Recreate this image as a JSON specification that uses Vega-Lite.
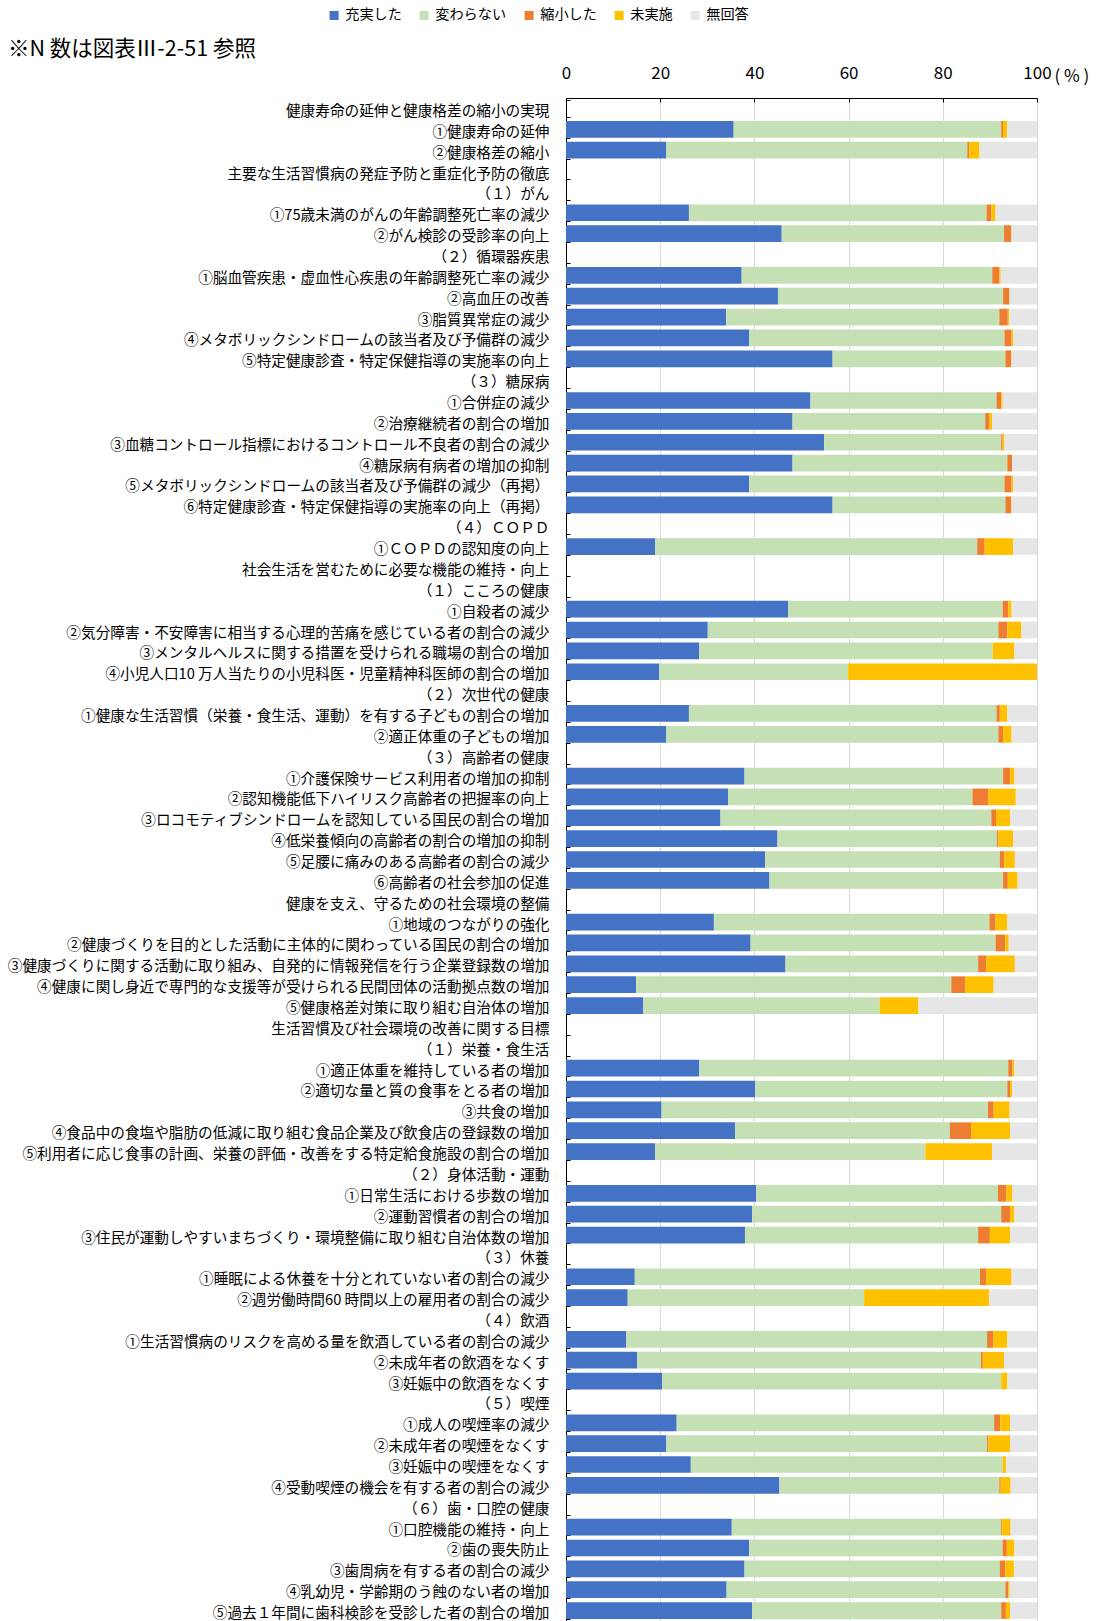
{
  "$schema": "https://vega.github.io/schema/vega-lite/v6.json",
  "width": 471,
  "height": 1523,
  "autosize": {"type": "none"},
  "padding": {"left": 566, "top": 98, "right": 62, "bottom": 0},
  "background": "#ffffff",
  "config": {
    "font": "Noto Sans CJK JP",
    "view": {"stroke": null}
  },
  "title": {
    "text": "※N 数は図表Ⅲ-2-51 参照",
    "anchor": "start",
    "frame": "group",
    "dx": -558,
    "dy": 62,
    "fontSize": 21.5,
    "fontWeight": "normal",
    "color": "#000000",
    "offset": 10
  },
  "datasets": {
    "cats": [
      {"key": "p", "cat": "充実した", "o": 1},
      {"key": "q", "cat": "変わらない", "o": 2},
      {"key": "r", "cat": "縮小した", "o": 3},
      {"key": "s", "cat": "未実施", "o": 4},
      {"key": "t", "cat": "無回答", "o": 5}
    ]
  },
  "data": {
    "values": [
      {"i": "①健康寿命の延伸", "p": 35.6, "q": 56.8, "r": 0.4, "s": 0.9, "t": 6.3},
      {"i": "②健康格差の縮小", "p": 21.3, "q": 63.9, "r": 0.4, "s": 2.2, "t": 12.2},
      {"i": "①75歳未満のがんの年齢調整死亡率の減少", "p": 26.1, "q": 63.2, "r": 1.0, "s": 0.9, "t": 8.8},
      {"i": "②がん検診の受診率の向上", "p": 45.8, "q": 47.2, "r": 1.5, "s": 0.1, "t": 5.4},
      {"i": "①脳血管疾患・虚血性心疾患の年齢調整死亡率の減少", "p": 37.3, "q": 53.2, "r": 1.5, "s": 0.3, "t": 7.7},
      {"i": "②高血圧の改善", "p": 45.0, "q": 47.8, "r": 1.3, "s": 0.1, "t": 5.8},
      {"i": "③脂質異常症の減少", "p": 34.0, "q": 58.0, "r": 1.8, "s": 0.3, "t": 5.9},
      {"i": "④メタボリックシンドロームの該当者及び予備群の減少", "p": 38.9, "q": 54.2, "r": 1.5, "s": 0.3, "t": 5.1},
      {"i": "⑤特定健康診査・特定保健指導の実施率の向上", "p": 56.6, "q": 36.7, "r": 1.2, "s": 0.1, "t": 5.4},
      {"i": "①合併症の減少", "p": 51.9, "q": 39.5, "r": 1.0, "s": 0.3, "t": 7.3},
      {"i": "②治療継続者の割合の増加", "p": 48.1, "q": 40.9, "r": 0.9, "s": 0.6, "t": 9.5},
      {"i": "③血糖コントロール指標におけるコントロール不良者の割合の減少", "p": 54.8, "q": 37.6, "r": 0.3, "s": 0.4, "t": 6.9},
      {"i": "④糖尿病有病者の増加の抑制", "p": 48.1, "q": 45.6, "r": 1.0, "s": 0.0, "t": 5.3},
      {"i": "⑤メタボリックシンドロームの該当者及び予備群の減少（再掲）", "p": 38.9, "q": 54.2, "r": 1.5, "s": 0.3, "t": 5.1},
      {"i": "⑥特定健康診査・特定保健指導の実施率の向上（再掲）", "p": 56.6, "q": 36.7, "r": 1.2, "s": 0.1, "t": 5.4},
      {"i": "①ＣＯＰＤの認知度の向上", "p": 18.9, "q": 68.4, "r": 1.6, "s": 6.0, "t": 5.1},
      {"i": "①自殺者の減少", "p": 47.2, "q": 45.5, "r": 1.2, "s": 0.7, "t": 5.4},
      {"i": "②気分障害・不安障害に相当する心理的苦痛を感じている者の割合の減少", "p": 30.1, "q": 61.7, "r": 1.9, "s": 3.0, "t": 3.3},
      {"i": "③メンタルヘルスに関する措置を受けられる職場の割合の増加", "p": 28.3, "q": 62.3, "r": 0.0, "s": 4.6, "t": 4.8},
      {"i": "④小児人口10 万人当たりの小児科医・児童精神科医師の割合の増加", "p": 19.8, "q": 40.1, "r": 0.0, "s": 40.1, "t": 0.0},
      {"i": "①健康な生活習慣（栄養・食生活、運動）を有する子どもの割合の増加", "p": 26.1, "q": 65.3, "r": 0.7, "s": 1.6, "t": 6.3},
      {"i": "②適正体重の子どもの増加", "p": 21.3, "q": 70.5, "r": 1.0, "s": 1.8, "t": 5.4},
      {"i": "①介護保険サービス利用者の増加の抑制", "p": 37.9, "q": 54.9, "r": 1.5, "s": 0.9, "t": 4.8},
      {"i": "②認知機能低下ハイリスク高齢者の把握率の向上", "p": 34.4, "q": 51.9, "r": 3.4, "s": 5.8, "t": 4.5},
      {"i": "③ロコモティブシンドロームを認知している国民の割合の増加", "p": 32.8, "q": 57.5, "r": 1.0, "s": 3.0, "t": 5.7},
      {"i": "④低栄養傾向の高齢者の割合の増加の抑制", "p": 44.9, "q": 46.6, "r": 0.3, "s": 3.1, "t": 5.1},
      {"i": "⑤足腰に痛みのある高齢者の割合の減少", "p": 42.3, "q": 49.8, "r": 1.0, "s": 2.2, "t": 4.7},
      {"i": "⑥高齢者の社会参加の促進", "p": 43.2, "q": 49.6, "r": 1.0, "s": 2.1, "t": 4.1},
      {"i": "①地域のつながりの強化", "p": 31.4, "q": 58.5, "r": 1.3, "s": 2.5, "t": 6.3},
      {"i": "②健康づくりを目的とした活動に主体的に関わっている国民の割合の増加", "p": 39.2, "q": 52.0, "r": 2.1, "s": 0.7, "t": 6.0},
      {"i": "③健康づくりに関する活動に取り組み、自発的に情報発信を行う企業登録数の増加", "p": 46.6, "q": 40.9, "r": 1.8, "s": 6.0, "t": 4.7},
      {"i": "④健康に関し身近で専門的な支援等が受けられる民間団体の活動拠点数の増加", "p": 14.9, "q": 66.9, "r": 3.0, "s": 6.0, "t": 9.2},
      {"i": "⑤健康格差対策に取り組む自治体の増加", "p": 16.4, "q": 50.2, "r": 0.0, "s": 8.2, "t": 25.2},
      {"i": "①適正体重を維持している者の増加", "p": 28.3, "q": 65.6, "r": 0.9, "s": 0.4, "t": 4.8},
      {"i": "②適切な量と質の食事をとる者の増加", "p": 40.2, "q": 53.5, "r": 0.6, "s": 0.4, "t": 5.3},
      {"i": "③共食の増加", "p": 20.3, "q": 69.3, "r": 1.2, "s": 3.4, "t": 5.8},
      {"i": "④食品中の食塩や脂肪の低減に取り組む食品企業及び飲食店の登録数の増加", "p": 35.9, "q": 45.6, "r": 4.5, "s": 8.3, "t": 5.7},
      {"i": "⑤利用者に応じ食事の計画、栄養の評価・改善をする特定給食施設の割合の増加", "p": 18.9, "q": 57.4, "r": 0.0, "s": 14.2, "t": 9.5},
      {"i": "①日常生活における歩数の増加", "p": 40.4, "q": 51.3, "r": 1.8, "s": 1.3, "t": 5.2},
      {"i": "②運動習慣者の割合の増加", "p": 39.5, "q": 52.9, "r": 1.9, "s": 0.9, "t": 4.8},
      {"i": "③住民が運動しやすいまちづくり・環境整備に取り組む自治体数の増加", "p": 38.0, "q": 49.5, "r": 2.5, "s": 4.3, "t": 5.7},
      {"i": "①睡眠による休養を十分とれていない者の割合の減少", "p": 14.6, "q": 73.3, "r": 1.3, "s": 5.4, "t": 5.4},
      {"i": "②週労働時間60 時間以上の雇用者の割合の減少", "p": 13.1, "q": 50.2, "r": 0.0, "s": 26.5, "t": 10.2},
      {"i": "①生活習慣病のリスクを高める量を飲酒している者の割合の減少", "p": 12.8, "q": 76.6, "r": 1.3, "s": 3.0, "t": 6.3},
      {"i": "②未成年者の飲酒をなくす", "p": 15.1, "q": 73.0, "r": 0.4, "s": 4.5, "t": 7.0},
      {"i": "③妊娠中の飲酒をなくす", "p": 20.4, "q": 72.0, "r": 0.0, "s": 1.3, "t": 6.3},
      {"i": "①成人の喫煙率の減少", "p": 23.5, "q": 67.4, "r": 1.3, "s": 2.1, "t": 5.7},
      {"i": "②未成年者の喫煙をなくす", "p": 21.3, "q": 68.1, "r": 0.3, "s": 4.6, "t": 5.7},
      {"i": "③妊娠中の喫煙をなくす", "p": 26.5, "q": 66.2, "r": 0.0, "s": 0.7, "t": 6.6},
      {"i": "④受動喫煙の機会を有する者の割合の減少", "p": 45.3, "q": 46.7, "r": 0.3, "s": 2.1, "t": 5.6},
      {"i": "①口腔機能の維持・向上", "p": 35.2, "q": 57.2, "r": 0.2, "s": 1.8, "t": 5.6},
      {"i": "②歯の喪失防止", "p": 38.9, "q": 53.8, "r": 0.9, "s": 1.6, "t": 4.8},
      {"i": "③歯周病を有する者の割合の減少", "p": 37.9, "q": 54.2, "r": 1.2, "s": 1.8, "t": 4.9},
      {"i": "④乳幼児・学齢期のう蝕のない者の増加", "p": 34.1, "q": 59.2, "r": 0.6, "s": 0.3, "t": 5.8},
      {"i": "⑤過去１年間に歯科検診を受診した者の割合の増加", "p": 39.5, "q": 52.9, "r": 1.0, "s": 0.9, "t": 5.7}
    ]
  },
  "transform": [
    {"fold": ["p", "q", "r", "s", "t"], "as": ["key", "pct"]},
    {"lookup": "key", "from": {"data": {"name": "cats"}, "key": "key", "fields": ["cat", "o"]}}
  ],
  "mark": {"type": "bar"},
  "encoding": {
    "y": {
      "field": "i",
      "type": "nominal",
      "sort": null,
      "scale": {
        "paddingInner": 0.2,
        "paddingOuter": 0.1,
        "domain": [
          "健康寿命の延伸と健康格差の縮小の実現",
          "①健康寿命の延伸",
          "②健康格差の縮小",
          "主要な生活習慣病の発症予防と重症化予防の徹底",
          "（１）がん",
          "①75歳未満のがんの年齢調整死亡率の減少",
          "②がん検診の受診率の向上",
          "（２）循環器疾患",
          "①脳血管疾患・虚血性心疾患の年齢調整死亡率の減少",
          "②高血圧の改善",
          "③脂質異常症の減少",
          "④メタボリックシンドロームの該当者及び予備群の減少",
          "⑤特定健康診査・特定保健指導の実施率の向上",
          "（３）糖尿病",
          "①合併症の減少",
          "②治療継続者の割合の増加",
          "③血糖コントロール指標におけるコントロール不良者の割合の減少",
          "④糖尿病有病者の増加の抑制",
          "⑤メタボリックシンドロームの該当者及び予備群の減少（再掲）",
          "⑥特定健康診査・特定保健指導の実施率の向上（再掲）",
          "（４）ＣＯＰＤ",
          "①ＣＯＰＤの認知度の向上",
          "社会生活を営むために必要な機能の維持・向上",
          "（１）こころの健康",
          "①自殺者の減少",
          "②気分障害・不安障害に相当する心理的苦痛を感じている者の割合の減少",
          "③メンタルヘルスに関する措置を受けられる職場の割合の増加",
          "④小児人口10 万人当たりの小児科医・児童精神科医師の割合の増加",
          "（２）次世代の健康",
          "①健康な生活習慣（栄養・食生活、運動）を有する子どもの割合の増加",
          "②適正体重の子どもの増加",
          "（３）高齢者の健康",
          "①介護保険サービス利用者の増加の抑制",
          "②認知機能低下ハイリスク高齢者の把握率の向上",
          "③ロコモティブシンドロームを認知している国民の割合の増加",
          "④低栄養傾向の高齢者の割合の増加の抑制",
          "⑤足腰に痛みのある高齢者の割合の減少",
          "⑥高齢者の社会参加の促進",
          "健康を支え、守るための社会環境の整備",
          "①地域のつながりの強化",
          "②健康づくりを目的とした活動に主体的に関わっている国民の割合の増加",
          "③健康づくりに関する活動に取り組み、自発的に情報発信を行う企業登録数の増加",
          "④健康に関し身近で専門的な支援等が受けられる民間団体の活動拠点数の増加",
          "⑤健康格差対策に取り組む自治体の増加",
          "生活習慣及び社会環境の改善に関する目標",
          "（１）栄養・食生活",
          "①適正体重を維持している者の増加",
          "②適切な量と質の食事をとる者の増加",
          "③共食の増加",
          "④食品中の食塩や脂肪の低減に取り組む食品企業及び飲食店の登録数の増加",
          "⑤利用者に応じ食事の計画、栄養の評価・改善をする特定給食施設の割合の増加",
          "（２）身体活動・運動",
          "①日常生活における歩数の増加",
          "②運動習慣者の割合の増加",
          "③住民が運動しやすいまちづくり・環境整備に取り組む自治体数の増加",
          "（３）休養",
          "①睡眠による休養を十分とれていない者の割合の減少",
          "②週労働時間60 時間以上の雇用者の割合の減少",
          "（４）飲酒",
          "①生活習慣病のリスクを高める量を飲酒している者の割合の減少",
          "②未成年者の飲酒をなくす",
          "③妊娠中の飲酒をなくす",
          "（５）喫煙",
          "①成人の喫煙率の減少",
          "②未成年者の喫煙をなくす",
          "③妊娠中の喫煙をなくす",
          "④受動喫煙の機会を有する者の割合の減少",
          "（６）歯・口腔の健康",
          "①口腔機能の維持・向上",
          "②歯の喪失防止",
          "③歯周病を有する者の割合の減少",
          "④乳幼児・学齢期のう蝕のない者の増加",
          "⑤過去１年間に歯科検診を受診した者の割合の増加"
        ]
      },
      "axis": {
        "title": null,
        "domainColor": "#000000",
        "domainWidth": 1,
        "tickColor": "#000000",
        "tickBand": "extent",
        "tickSize": -4,
        "labelFontSize": 14.65,
        "labelColor": "#000000",
        "labelPadding": 21,
        "labelOffset": 3,
        "labelLimit": 0,
        "grid": false
      }
    },
    "x": {
      "field": "pct",
      "type": "quantitative",
      "stack": "zero",
      "scale": {"domain": [0, 100], "nice": false},
      "axis": {
        "orient": "top",
        "values": [0, 20, 40, 60, 80, 100],
        "grid": true,
        "gridColor": "#D9D9D9",
        "domainColor": "#000000",
        "tickColor": "#000000",
        "tickSize": -4,
        "labelFontSize": 17,
        "labelColor": "#000000",
        "labelPadding": 19.5,
        "labelFlush": false,
        "title": "( % )",
        "titleFontSize": 17,
        "titleFontWeight": "normal",
        "titleColor": "#000000",
        "titleAngle": 0,
        "titleAlign": "left",
        "titleBaseline": "alphabetic",
        "titleX": 488,
        "titleY": -17
      }
    },
    "color": {
      "field": "cat",
      "type": "nominal",
      "scale": {
        "domain": ["充実した", "変わらない", "縮小した", "未実施", "無回答"],
        "range": ["#4472C4", "#C5E0B4", "#ED7D31", "#FFC000", "#E7E6E6"]
      },
      "legend": {
        "title": null,
        "orient": "none",
        "direction": "horizontal",
        "legendX": -239,
        "legendY": -90,
        "symbolType": "square",
        "symbolSize": 81,
        "symbolStrokeWidth": 0,
        "labelFontSize": 14.2,
        "labelColor": "#000000",
        "labelOffset": 4,
        "columnPadding": 15
      }
    },
    "order": {"field": "o", "type": "quantitative"}
  }
}
